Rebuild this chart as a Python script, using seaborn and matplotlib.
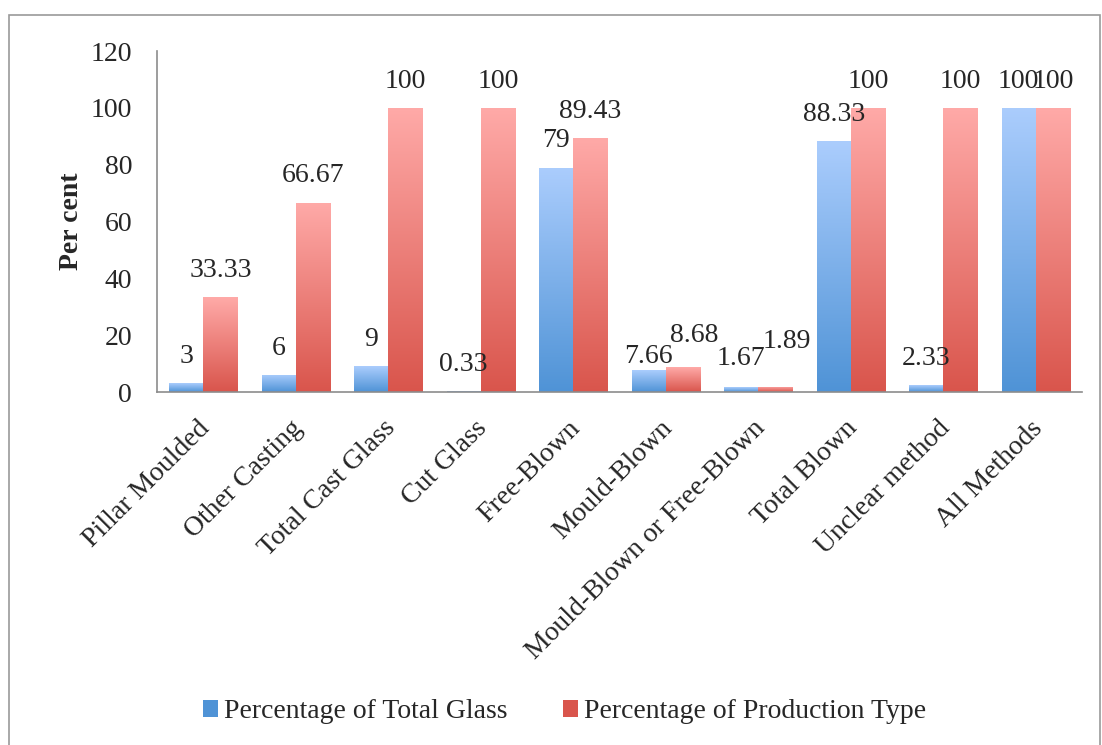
import numpy as np
import pandas as pd
import matplotlib
matplotlib.use('Agg')
import matplotlib.pyplot as plt
import matplotlib.transforms as mtransforms
from matplotlib.patches import Rectangle, Patch
from matplotlib.colors import LinearSegmentedColormap
import seaborn as sns

# chart data
categories = ["Pillar Moulded", "Other Casting", "Total Cast Glass", "Cut Glass",
              "Free-Blown", "Mould-Blown", "Mould-Blown or Free-Blown",
              "Total Blown", "Unclear method", "All Methods"]
pct_total_glass = [3, 6, 9, 0.33, 79, 7.66, 1.67, 88.33, 2.33, 100]
pct_production_type = [33.33, 66.67, 100, 100, 89.43, 8.68, 1.89, 100, 100, 100]
series_names = ["Percentage of Total Glass", "Percentage of Production Type"]

df = pd.DataFrame({
    "Category": categories * 2,
    "Value": pct_total_glass + pct_production_type,
    "Series": [series_names[0]] * len(categories) + [series_names[1]] * len(categories),
})

sns.set_style("white")
plt.rcParams["font.family"] = ["Liberation Serif", "DejaVu Serif"]
FS = 20

# Excel-like gradients (bottom dark, top light)
gradients = {
    series_names[0]: ("#4f93d6", "#abcdfd"),
    series_names[1]: ("#d9554c", "#ffaaa8"),
}

# label offsets (points) where Excel nudged crowded labels apart
default_offset = (0, 14.5)
label_nudges = {
    (series_names[0], "Mould-Blown"): (0, 5),
    (series_names[1], "Mould-Blown"): (8, 18),
    (series_names[0], "Mould-Blown or Free-Blown"): (0, 16),
    (series_names[1], "Mould-Blown or Free-Blown"): (8, 28),
}

fig = plt.figure(figsize=(11.02, 7.45), dpi=100)
ax = fig.add_axes([0.1425, 0.4738, 0.8395, 0.4577])

sns.barplot(data=df, x="Category", y="Value", hue="Series", order=categories,
            hue_order=series_names, width=0.74, ax=ax, legend=False,
            palette=[gradients[s][0] for s in series_names], saturation=1)

# replace flat fills with vertical gradients clipped to each bar
grad = np.linspace(0, 1, 256).reshape(-1, 1)
for container, name in zip(ax.containers, series_names):
    cmap = LinearSegmentedColormap.from_list(name, gradients[name])
    values = df.loc[df["Series"] == name, "Value"]
    for bar, val, cat in zip(container.patches, values, categories):
        x0, y0 = bar.get_x(), bar.get_y()
        w, h = bar.get_width(), bar.get_height()
        bar.set_facecolor("none")
        bar.set_edgecolor("none")
        im = ax.imshow(grad, extent=(x0, x0 + w, y0, y0 + h), origin="lower",
                       aspect="auto", cmap=cmap, zorder=2)
        im.set_clip_path(bar)
        ax.annotate(f"{val:g}", (x0 + w / 2, y0 + h),
                    xytext=label_nudges.get((name, cat), default_offset),
                    textcoords="offset points", ha="center", va="baseline",
                    fontsize=FS)

ax.set_xlim(-0.5, len(categories) - 0.5)
ax.set_ylim(0, 120)
ax.set_yticks(range(0, 121, 20))

for side in ["top", "right"]:
    ax.spines[side].set_visible(False)
for side in ["left", "bottom"]:
    ax.spines[side].set_color("#8c8c8c")
    ax.spines[side].set_linewidth(1.2)

ax.tick_params(axis="both", length=0, labelsize=FS)
ax.tick_params(axis="y", pad=18)
ax.tick_params(axis="x", pad=17)
ax.set_xticks(range(len(categories)))
ax.set_xticklabels(categories, rotation=45, ha="right", rotation_mode="anchor")
shift = mtransforms.ScaledTranslation(-6 / 100, 0, fig.dpi_scale_trans)
for lbl in ax.get_xticklabels():
    lbl.set_transform(lbl.get_transform() + shift)
ax.set_xlabel("")
ax.set_ylabel("Per cent", fontsize=FS, fontweight="bold", labelpad=5)

handles = [Patch(facecolor=gradients[s][0], edgecolor="none") for s in series_names]
fig.legend(handles, series_names, loc="center", bbox_to_anchor=(0.512, 0.045),
           ncol=2, frameon=False, fontsize=FS, handlelength=0.55, handleheight=0.55,
           handletextpad=0.2, columnspacing=2.0)

# outer chart border
fig.patches.append(Rectangle((0.008, -0.01), 0.99, 0.99, transform=fig.transFigure,
                             fill=False, edgecolor="#9a9a9a", linewidth=1.2))

fig.savefig("out.png", dpi=100)
plt.close(fig)
